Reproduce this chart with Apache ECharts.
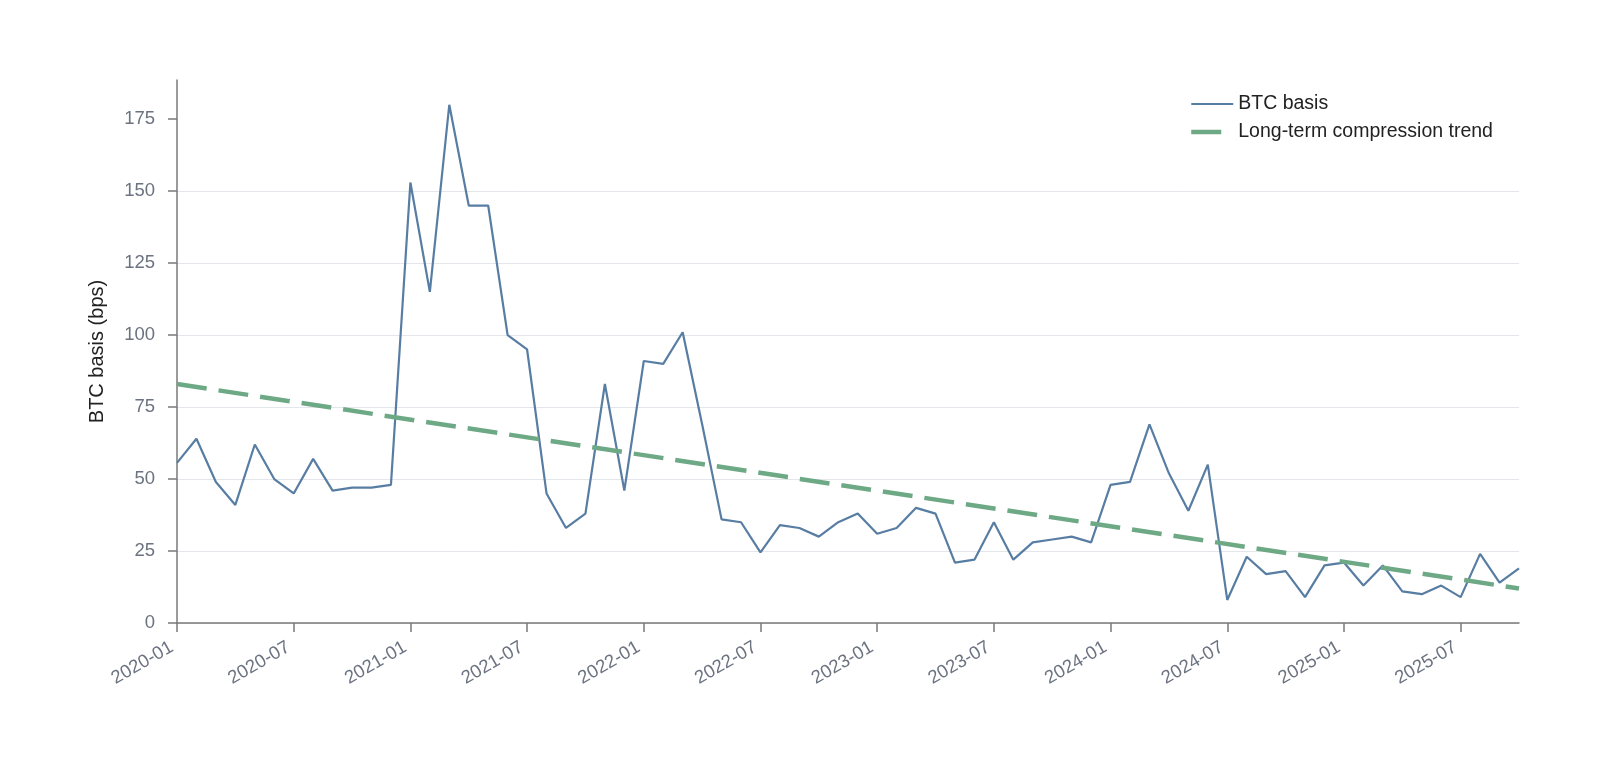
<!DOCTYPE html>
<html>
<head>
<meta charset="utf-8">
<script src="https://cdn.jsdelivr.net/npm/echarts@6/dist/echarts.min.js"></script>
<style>
  html, body { margin: 0; padding: 0; background: #fff; }
  #chart-container { width: 1600px; height: 778px; }
</style>
</head>
<body>
<div id="chart-container"></div>
<script>
var dom = document.getElementById('chart-container');
var myChart = echarts.init(dom, null, { renderer: 'canvas' });

// 月份（2020-01 ~ 2025-10）
const months = [
  '2020-01','2020-02','2020-03','2020-04','2020-05','2020-06','2020-07','2020-08','2020-09','2020-10','2020-11','2020-12',
  '2021-01','2021-02','2021-03','2021-04','2021-05','2021-06','2021-07','2021-08','2021-09','2021-10','2021-11','2021-12',
  '2022-01','2022-02','2022-03','2022-04','2022-05','2022-06','2022-07','2022-08','2022-09','2022-10','2022-11','2022-12',
  '2023-01','2023-02','2023-03','2023-04','2023-05','2023-06','2023-07','2023-08','2023-09','2023-10','2023-11','2023-12',
  '2024-01','2024-02','2024-03','2024-04','2024-05','2024-06','2024-07','2024-08','2024-09','2024-10','2024-11','2024-12',
  '2025-01','2025-02','2025-03','2025-04','2025-05','2025-06','2025-07','2025-08','2025-09','2025-10'
];

// BTC basis (bps)
const btcBasis = [
  55.6, 64, 49, 41, 62, 50, 45, 57, 46, 47, 47, 48,
  153, 115, 180, 145, 145, 100, 95, 45, 33, 38, 83, 46,
  91, 90, 101, 69, 36, 35, 24.5, 34, 33, 30, 35, 38,
  31, 33, 40, 38, 21, 22, 35, 22, 28, 29, 30, 28,
  48, 49, 69, 52, 39, 55, 8, 23, 17, 18, 9, 20,
  21, 13, 20, 11, 10, 13, 9, 24, 14, 19
];

// 趋势线两端
const trendPoints = [['2020-01', 83], ['2025-10', 12]];

// y 轴刻度
const yTicks = [0, 25, 50, 75, 100, 125, 150, 175];

const AXIS_COLOR = '#7a7a7a';
const LABEL_COLOR = '#6b7280';
const BLUE = '#587da3';
const GREEN = '#6ea986';
const FONT = '"Liberation Sans", Arial, Helvetica, sans-serif';

var option = {
  animation: false,
  textStyle: { fontFamily: FONT },
  grid: {
    left: 177,
    right: 81,
    top: 80,
    bottom: 155
  },
  legend: {
    orient: 'vertical',
    left: 1184,
    top: 89,
    itemWidth: 42,
    itemHeight: 14,
    itemGap: 8,
    // 隐藏图例里的圆点，只留线
    itemStyle: { opacity: 0 },
    textStyle: { fontSize: 19.5, color: '#222', fontFamily: FONT },
    data: [
      { name: 'BTC basis', lineStyle: { color: BLUE, width: 2.2, opacity: 1 } },
      { name: 'Long-term compression trend', lineStyle: { color: GREEN, width: 4.5, type: [30, 12], opacity: 1 } }
    ]
  },
  xAxis: {
    type: 'category',
    data: months,
    boundaryGap: false,
    axisLine: { lineStyle: { color: AXIS_COLOR, width: 1.5 } },
    axisTick: { interval: 5, length: 9, lineStyle: { color: AXIS_COLOR, width: 1.5 } },
    axisLabel: {
      interval: 5,
      rotate: 30,
      margin: 20,
      padding: [0, 6, 0, 0],
      fontSize: 18.5,
      color: LABEL_COLOR,
      fontFamily: FONT
    },
    splitLine: { show: false }
  },
  yAxis: {
    type: 'value',
    min: 0,
    max: 188.6,
    interval: 25,
    name: 'BTC basis (bps)',
    nameLocation: 'middle',
    nameGap: 70,
    nameTextStyle: { fontSize: 20, color: '#222', fontFamily: FONT },
    axisLine: { show: true, lineStyle: { color: AXIS_COLOR, width: 1.5 } },
    axisTick: { show: true, length: 9, customValues: yTicks, lineStyle: { color: AXIS_COLOR, width: 1.5 } },
    axisLabel: { customValues: yTicks, margin: 22, fontSize: 18.5, color: LABEL_COLOR, fontFamily: FONT },
    splitLine: { show: true, showMaxLine: false, lineStyle: { color: '#e3e6eb', width: 1 } }
  },
  series: [
    {
      name: 'BTC basis',
      type: 'line',
      data: btcBasis,
      symbol: 'none',
      lineStyle: { color: BLUE, width: 2.2 },
      itemStyle: { color: BLUE },
      z: 2
    },
    {
      name: 'Long-term compression trend',
      type: 'line',
      data: trendPoints,
      symbol: 'none',
      lineStyle: { color: GREEN, width: 4.5, type: [30, 12] },
      itemStyle: { color: GREEN },
      z: 3
    }
  ]
};

myChart.setOption(option);
window.addEventListener('resize', myChart.resize);
</script>
</body>
</html>
